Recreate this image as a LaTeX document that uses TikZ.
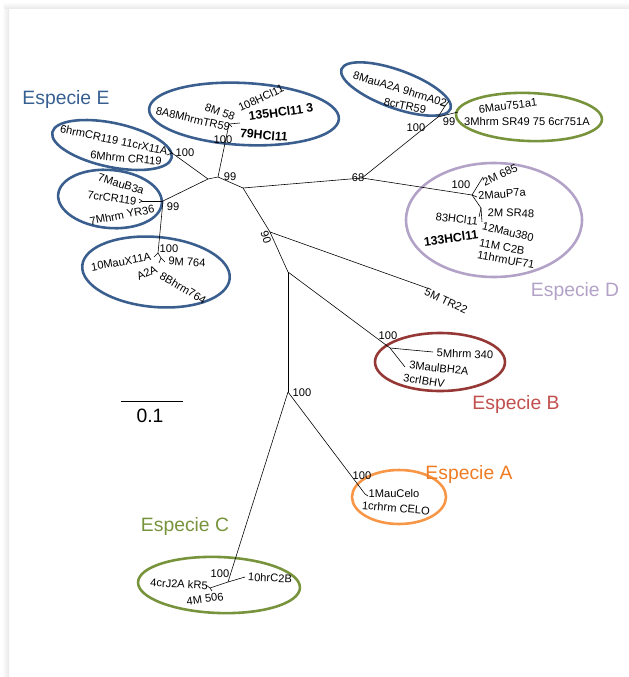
\documentclass[tikz,border=0pt]{standalone}
\usepackage{fontspec}
\setmainfont{Liberation Sans}
\definecolor{cladeBlue}{HTML}{3A5F8F}
\definecolor{cladeGreen}{HTML}{77933C}
\definecolor{cladePurple}{HTML}{B3A2C7}
\definecolor{cladeBrown}{HTML}{953735}
\definecolor{cladeOrange}{HTML}{F79646}
\definecolor{textRed}{HTML}{C0504D}
\definecolor{textOrange}{HTML}{EE7C24}
\definecolor{textBlue}{HTML}{376092}
\begin{document}
\begin{tikzpicture}[x=0.03cm,y=-0.03cm]
	\tikzstyle{tip} = [inner sep=0pt, font=\fontsize{9.5}{11}\selectfont]
	\tikzstyle{tipbold} = [inner sep=0pt, font=\fontsize{10.5}{12}\selectfont\bfseries]
	\tikzstyle{boot} = [inner sep=0pt, font=\fontsize{9.5}{10}\selectfont]
	\tikzstyle{species} = [inner sep=0pt, font=\fontsize{16.5}{18}\selectfont]
	\tikzstyle{branch} = [black, line width=0.5pt]
	\tikzstyle{clade} = [line width=2.2pt]

	\useasboundingbox (0,0) rectangle (629,677);
	\shade[left color=white, right color=gray!18] (2,4) rectangle (9,677);
	\shade[top color=white, bottom color=gray!18] (4,2) rectangle (629,9);

	\draw [clade, cladeBlue, rotate around={-3:(244,114)}] (244,114) ellipse [x radius=95, y radius=31];
	\draw [clade, cladeBlue, rotate around={-12:(112,145)}] (112,145) ellipse [x radius=61, y radius=22];
	\draw [clade, cladeBlue, rotate around={-5:(110,199)}] (110,199) ellipse [x radius=52, y radius=29];
	\draw [clade, cladeBlue, rotate around={-5:(156,272)}] (156,272) ellipse [x radius=74, y radius=35];
	\draw [clade, cladeBlue, rotate around={-20:(396,89)}] (396,89) ellipse [x radius=58, y radius=19];
	\draw [clade, cladeGreen, rotate around={-2:(529,117)}] (529,117) ellipse [x radius=73, y radius=24];
	\draw [clade, cladePurple] (494,220) ellipse [x radius=88, y radius=57];
	\draw [clade, cladeBrown] (440,362) ellipse [x radius=65, y radius=29];
	\draw [clade, cladeOrange] (399,497) ellipse [x radius=47, y radius=27];
	\draw [clade, cladeGreen, rotate around={-2:(219,585)}] (219,585) ellipse [x radius=81, y radius=28];

	\coordinate (n0) at (218,177);
	\coordinate (n1) at (208,179);
	\coordinate (n2) at (163,201);
	\coordinate (n3) at (243,188);
	\coordinate (cE1) at (172,153);
	\coordinate (cE2) at (142,201);
	\coordinate (cE3) at (158,253);
	\coordinate (cE4) at (229,124);
	\coordinate (n68) at (362,178);
	\coordinate (cTR) at (438,117);
	\coordinate (cTRb) at (445,106);
	\coordinate (cTRg) at (458,112);
	\coordinate (cD) at (472,195);
	\coordinate (n90) at (270,232);
	\coordinate (tTR22) at (427,288);
	\coordinate (nM) at (288,272);
	\coordinate (cB) at (390,348);
	\coordinate (nL) at (288,392);
	\coordinate (cA) at (365,494);
	\coordinate (cC) at (228,582);

	\coordinate (tE1a) at (168,149);
	\coordinate (tE1b) at (167,155);
	\coordinate (tE2a) at (139,199);
	\coordinate (tE2b) at (139,203);
	\coordinate (tE3a) at (154,257);
	\coordinate (tE3b) at (161,258);
	\coordinate (tE3c) at (165,262);
	\coordinate (tE3d) at (159,263);
	\coordinate (tE4a) at (240,123);
	\coordinate (tE4b) at (232,127);
	\coordinate (tTRb1) at (449,101);
	\coordinate (tTRb2) at (440,104);
	\coordinate (tD1) at (483,177);
	\coordinate (tD2) at (477,197);
	\coordinate (nD2) at (481,208);
	\coordinate (tD3) at (482,222);
	\coordinate (tD4) at (479,217);
	\coordinate (tB1) at (433,352);
	\coordinate (tB2) at (405,367);
	\coordinate (tA1) at (368,496);
	\coordinate (tC1) at (245,577);
	\coordinate (tC2) at (210,588);
	\coordinate (tC3) at (206,585);
	\coordinate (tC4) at (212,591);

	\draw [branch] (n0) -- (n1);
	\draw [branch] (n1) -- (cE1);
	\draw [branch] (n1) -- (n2);
	\draw [branch] (n2) -- (cE2);
	\draw [branch] (n2) -- (cE3);
	\draw [branch] (n0) -- (cE4);
	\draw [branch] (n0) -- (n3);
	\draw [branch] (n3) -- (n68);
	\draw [branch] (n68) -- (cTR);
	\draw [branch] (cTR) -- (cTRb);
	\draw [branch] (cTR) -- (cTRg);
	\draw [branch] (n68) -- (cD);
	\draw [branch] (n3) -- (n90);
	\draw [branch] (n90) -- (tTR22);
	\draw [branch] (n90) -- (nM);
	\draw [branch] (nM) -- (cB);
	\draw [branch] (nM) -- (nL);
	\draw [branch] (nL) -- (cA);
	\draw [branch] (nL) -- (cC);

	\draw [branch] (tE1a) -- (cE1) -- (tE1b);
	\draw [branch] (tE2a) -- (cE2) -- (tE2b);
	\draw [branch] (tE3a) -- (cE3) -- (tE3b) -- (tE3c);
	\draw [branch] (tE3b) -- (tE3d);
	\draw [branch] (tE4b) -- (cE4) -- (tE4a);
	\draw [branch] (tTRb1) -- (cTRb) -- (tTRb2);
	\draw [branch] (cD) -- (tD1);
	\draw [branch] (cD) -- (tD2);
	\draw [branch] (cD) -- (nD2) -- (tD3);
	\draw [branch] (nD2) -- (tD4);
	\draw [branch] (cB) -- (tB1);
	\draw [branch] (cB) -- (tB2);
	\draw [branch] (cA) -- (tA1);
	\draw [branch] (tC2) -- (cC) -- (tC1);
	\draw [branch] (tC3) -- (tC2) -- (tC4);

	\node (l108) [tip, rotate=25] at (261,98) {108HCl11};
	\node (l8M58) [tip, rotate=-20] at (220,112) {8M 58};
	\node (l8A8) [tip, rotate=-13] at (193,119) {8A8MhrmTR59};
	\node (l135) [tipbold, rotate=8] at (281,112) {135HCl11 3};
	\node (l79) [tipbold, rotate=-5] at (264,135) {79HCl11};
	\node (l6hrm) [tip, rotate=-12] at (114,140) {6hrmCR119 11crX11A};
	\node (l6Mhrm) [tip, rotate=-5] at (126,158) {6Mhrm CR119};
	\node (l7Mau) [tip, rotate=-17] at (121,184) {7MauB3a};
	\node (l7cr) [tip, rotate=-8] at (112,198) {7crCR119};
	\node (l7Mhrm) [tip, rotate=11] at (122,215) {7Mhrm YR36};
	\node (l10Mau) [tip, rotate=10] at (121,262) {10MauX11A};
	\node (lA2A) [tip, rotate=25] at (147,273) {A2A};
	\node (l9M) [tip, rotate=-3] at (187,262) {9M 764};
	\node (l8B) [tip, rotate=-30] at (183,288) {8Bhrm764};
	\node (l8MauA) [tip, rotate=-17] at (400,89) {8MauA2A 9hrmA02};
	\node (l8crTR) [tip, rotate=-12] at (405,106) {8crTR59};
	\node (l6Mau) [tip, rotate=7] at (508,106) {6Mau751a1};
	\node (l3Mhrm) [tip] at (527,122) {3Mhrm SR49 75 6cr751A};
	\node (l2M685) [tip, rotate=25] at (500,175) {2M 685};
	\node (l2MauP) [tip, rotate=5] at (502,194) {2MauP7a};
	\node (l2MSR) [tip, rotate=-2] at (511,213) {2M SR48};
	\node (l83) [tip, rotate=-7] at (457,219) {83HCl11};
	\node (l133) [tipbold, rotate=8] at (451,238) {133HCl11};
	\node (l12Mau) [tip, rotate=-13] at (508,232) {12Mau380};
	\node (l11M) [tip, rotate=-10] at (502,247) {11M C2B};
	\node (l11hrm) [tip, rotate=-10] at (506,260) {11hrmUF71};
	\node (l5MTR) [tip, rotate=-25] at (446,301) {5M TR22};
	\node (l5Mhrm) [tip, rotate=-2] at (465,354) {5Mhrm 340};
	\node (l3Mau) [tip, rotate=-6] at (439,368) {3MaulBH2A};
	\node (l3cr) [tip, rotate=-9] at (424,381) {3crIBHV};
	\node (l1Mau) [tip] at (394,494) {1MauCelo};
	\node (l1cr) [tip, rotate=-5] at (396,508) {1crhrm CELO};
	\node (l4cr) [tip, rotate=-3] at (179,584) {4crJ2A kR5};
	\node (l4M) [tip, rotate=8] at (205,599) {4M 506};
	\node (l10hr) [tip, rotate=-3] at (270,578) {10hrC2B};

	\node (b99a) [boot] at (230,177) {99};
	\node (b100E1) [boot] at (185,153) {100};
	\node (b99E2) [boot] at (173,207) {99};
	\node (b100E3) [boot] at (169,249) {100};
	\node (b100E4) [boot] at (223,140) {100};
	\node (b68) [boot] at (358,178) {68};
	\node (b100TR) [boot] at (416,128) {100};
	\node (b99TR) [boot] at (449,122) {99};
	\node (b100D) [boot] at (461,185) {100};
	\node (b90) [boot, rotate=-72] at (266,237) {90};
	\node (b100B) [boot] at (388,336) {100};
	\node (b100L) [boot] at (302,393) {100};
	\node (b100A) [boot] at (362,476) {100};
	\node (b100C) [boot] at (220,574) {100};

	\node (spA) [species, textOrange] at (469,474) {Especie A};
	\node (spB) [species, textRed] at (516,404) {Especie B};
	\node (spC) [species, cladeGreen] at (185,526) {Especie C};
	\node (spD) [species, cladePurple] at (575,291) {Especie D};
	\node (spE) [species, textBlue] at (66,100) {Especie E};

	\coordinate (sbL) at (121,401);
	\coordinate (sbR) at (183,401);
	\draw [branch, line width=0.7pt] (sbL) -- (sbR);
	\node (sbT) [species] at (150,416) {0.1};
\end{tikzpicture}
\end{document}
